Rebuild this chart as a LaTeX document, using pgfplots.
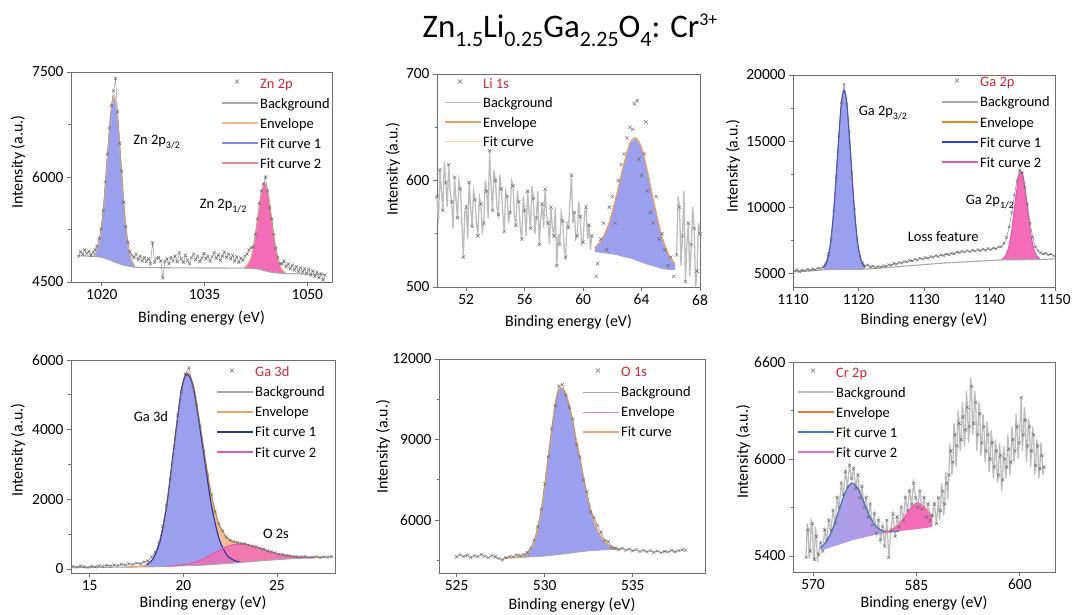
\documentclass[border=0pt]{standalone}
\usepackage{pgfplots}
\pgfplotsset{compat=1.18}
\usepackage{fontspec}
\setmainfont{Carlito}
\newfontfamily\redfont[Color=C8283A]{Carlito}
\newfontfamily\grayfont[Color=6A6A6A]{Carlito}

\definecolor{axisgray}{HTML}{6E6E6E}
\definecolor{markgray}{HTML}{6A6A6A}
\definecolor{datagray}{HTML}{BDBDBD}
\definecolor{datadark}{HTML}{848484}
\definecolor{datadarker}{HTML}{717171}
\definecolor{bggray}{HTML}{A8A8A8}
\definecolor{lavender}{HTML}{9AA0EE}
\definecolor{hotpink}{HTML}{F26CB6}
\definecolor{tanline}{HTML}{EDB98C}
\definecolor{znblue}{HTML}{7F88E8}
\definecolor{znpink}{HTML}{E98BA0}
\definecolor{liorange}{HTML}{E8A363}
\definecolor{lifit}{HTML}{F4CCA4}
\definecolor{gablue}{HTML}{2B44C6}
\definecolor{gapink}{HTML}{E65AAE}
\definecolor{gaorange}{HTML}{E08A2E}
\definecolor{envfill}{HTML}{F4BE90}
\definecolor{envline}{HTML}{EEA35E}
\definecolor{darkblue}{HTML}{27339F}
\definecolor{opink}{HTML}{E27CC6}
\definecolor{oorange}{HTML}{EBA76C}
\definecolor{crorange}{HTML}{E67B2C}
\definecolor{crblue}{HTML}{3B7BC8}
\definecolor{crpink}{HTML}{EE6FB8}
\definecolor{crlav}{HTML}{A6A3F0}
\definecolor{crmix}{HTML}{BD92DF}

\newcommand{\tsub}[1]{\raisebox{-0.3em}{\fontsize{22}{22}\selectfont #1}}
\newcommand{\tsupr}[1]{\raisebox{0.36em}{\fontsize{18}{18}\selectfont #1}}
\newcommand{\ssub}[1]{\raisebox{-0.28em}{\fontsize{10}{10}\selectfont #1}}
\newcommand{\annfont}{\fontsize{14.5}{17}\selectfont}
\newcommand{\legfont}{\fontsize{14.5}{17}\selectfont}

% key block: #1,#2 = corner (axis description cs), #3 = line shift, #4 = text shift,
% #5 = line style, #6 = label
\newcommand{\keyline}[6]{%
  \draw[#5] ([yshift=#3]axis description cs:#1,#2) -- ([xshift=36bp,yshift=#3]axis description cs:#1,#2);
  \node[anchor=base west, inner sep=0pt, font=\legfont] at ([xshift=38bp,yshift=#4]axis description cs:#1,#2) {#6};}
% first row: cross symbol and red series name
\newcommand{\keyhead}[3]{%
  \node[anchor=center, inner sep=0pt] at ([xshift=15bp,yshift=0.5bp]axis description cs:#1,#2) {\fontsize{11}{11}\grayfont ×};
  \node[anchor=base west, inner sep=0pt, font=\legfont] at ([xshift=38bp,yshift=-5bp]axis description cs:#1,#2) {\redfont #3};}

\pgfplotsset{
  xps/.style={
    anchor=north west, scale only axis,
    axis line style={draw=axisgray, line width=0.8pt},
    tick style={draw=axisgray, line width=0.7pt},
    tick align=outside, xtick pos=bottom, ytick pos=left,
    major tick length=4bp, minor tick length=2.5bp,
    tick label style={font=\fontsize{15.5}{18}\selectfont},
    label style={font=\fontsize{16}{19}\selectfont},
    /pgf/number format/assume math mode=true,
    /pgf/number format/set thousands separator={},
    scaled ticks=false,
    xlabel={Binding energy (eV)}, ylabel={Intensity (a.u.)},
    xlabel style={at={(axis description cs:0.5,0)}, anchor=center},
    ylabel style={anchor=center},
    clip=false,
  },
  datamarks/.style={only marks, mark=x, mark size=2.2bp,
    mark options={draw=markgray, line width=0.45pt}},
}

\begin{document}
\begin{tikzpicture}
\path[use as bounding box] (0,0) rectangle (1075bp,-615bp);
\node[anchor=base, font=\fontsize{33}{36}\selectfont] at (570bp,-37bp)
  {Zn\tsub{1.5}Li\tsub{0.25}Ga\tsub{2.25}O\tsub{4}: Cr\tsupr{3+}};

% ---------------- Zn 2p ----------------
\begin{axis}[xps, at={(71bp,-72bp)}, width=261bp, height=210bp,
  xmin=1015.5, xmax=1053.6, ymin=4500, ymax=7500,
  xtick={1020,1035,1050}, ytick={4500,6000,7500}, minor ytick={5250,6750},
  ylabel style={at={(axis description cs:-0.203,0.571)}},
  xlabel style={yshift=-36bp}]
\addplot[draw=none, fill=lavender] coordinates {
 (1018.8,4892)(1019.3,4966)(1019.8,5177)(1020.3,5618)(1020.8,6274)(1021.3,6910)
 (1021.8,7170)(1022.3,6870)(1022.8,6196)(1023.3,5511)(1023.8,5049)(1024.3,4822)(1024.8,4738)
 (1024.8,4712)(1024.3,4718)(1023.8,4727)(1023.3,4738)(1022.8,4752)(1022.3,4770)(1021.8,4790)
 (1021.3,4810)(1020.8,4830)(1020.3,4845)(1019.8,4855)(1019.3,4862)(1018.8,4866)};
\addplot[draw=none, fill=hotpink] coordinates {
 (1040.8,4712)(1041.3,4753)(1041.8,4866)(1042.3,5103)(1042.8,5452)(1043.3,5789)
 (1043.8,5925)(1044.3,5764)(1044.8,5405)(1045.3,5042)(1045.8,4798)(1046.3,4680)(1046.8,4636)
 (1046.8,4622)(1046.3,4624)(1045.8,4627)(1045.3,4631)(1044.8,4638)(1044.3,4648)(1043.8,4660)
 (1043.3,4673)(1042.8,4685)(1042.3,4692)(1041.8,4695)(1041.3,4697)(1040.8,4698)};
\addplot[bggray, line width=1.1pt] coordinates {
 (1016.6,4875)(1018,4870)(1019,4865)(1019.8,4855)(1020.3,4845)(1020.8,4830)(1021.3,4810)
 (1021.8,4790)(1022.3,4770)(1022.8,4752)(1023.3,4738)(1023.8,4727)(1024.3,4718)(1024.8,4712)
 (1026,4706)(1030,4703)(1035,4700)(1040,4699)(1040.8,4698)(1041.8,4695)(1042.8,4685)
 (1043.3,4673)(1043.8,4660)(1044.3,4648)(1044.8,4638)(1045.3,4631)(1045.8,4627)(1046.8,4622)
 (1049,4615)(1052.6,4605)};
\addplot[znblue, line width=0.6pt, smooth] coordinates {
 (1018.8,4892)(1019.3,4966)(1019.8,5177)(1020.3,5618)(1020.8,6274)(1021.3,6910)
 (1021.8,7170)(1022.3,6870)(1022.8,6196)(1023.3,5511)(1023.8,5049)(1024.3,4822)(1024.8,4738)};
\addplot[tanline, line width=1.1pt, smooth] coordinates {
 (1018.8,4892)(1019.3,4966)(1019.8,5177)(1020.3,5618)(1020.8,6274)(1021.3,6910)
 (1021.8,7170)(1022.3,6870)(1022.8,6196)(1023.3,5511)(1023.8,5049)(1024.3,4822)(1024.8,4738)};
\addplot[tanline, line width=1.1pt, smooth] coordinates {
 (1040.8,4712)(1041.3,4753)(1041.8,4866)(1042.3,5103)(1042.8,5452)(1043.3,5789)
 (1043.8,5925)(1044.3,5764)(1044.8,5405)(1045.3,5042)(1045.8,4798)(1046.3,4680)(1046.8,4636)};
\addplot[datadark, line width=0.4pt] coordinates {
 (1016.6,4870)(1016.9,4935)(1017.2,4890)(1017.5,4960)(1017.8,4905)(1018.1,4940)(1018.4,4880)
 (1018.7,4925)(1019.0,4960)(1019.3,5010)(1019.6,5120)(1019.9,5260)(1020.2,5520)(1020.5,5930)
 (1020.8,6330)(1021.1,6700)(1021.4,7020)(1021.7,7230)(1022.0,7410)(1022.3,6930)(1022.6,6480)
 (1022.9,6080)(1023.2,5640)(1023.5,5290)(1023.8,5070)(1024.1,4930)(1024.4,4880)(1024.7,4850)
 (1025.0,4900)(1025.3,4820)(1025.6,4870)(1025.9,4800)(1026.2,4850)(1026.5,4790)(1026.8,4830)
 (1027.1,4760)(1027.4,5060)(1027.7,4780)(1028.0,4840)(1028.3,4850)(1028.6,4800)(1028.9,4560)
 (1029.2,4790)(1029.5,4830)(1029.8,4760)(1030.1,4850)(1030.4,4800)(1030.7,4870)(1031.0,4790)
 (1031.3,4920)(1031.6,4830)(1031.9,4780)(1032.2,4880)(1032.5,4810)(1032.8,4760)(1033.1,4850)
 (1033.4,4900)(1033.7,4820)(1034.0,4870)(1034.3,4790)(1034.6,4840)(1034.9,4910)(1035.2,4830)
 (1035.5,4870)(1035.8,4800)(1036.1,4860)(1036.4,4920)(1036.7,4840)(1037.0,4890)(1037.3,4810)
 (1037.6,4870)(1037.9,4930)(1038.2,4850)(1038.5,4900)(1038.8,4830)(1039.1,4880)(1039.4,4800)
 (1039.7,4860)(1040.0,4780)(1040.3,4840)(1040.6,4810)(1040.9,4870)(1041.2,4900)(1041.5,4960)
 (1041.8,4990)(1042.1,5000)(1042.4,5180)(1042.7,5400)(1043.0,5620)(1043.3,5800)(1043.6,5900)
 (1043.9,6000)(1044.2,5800)(1044.5,5560)(1044.8,5400)(1045.1,5180)(1045.4,4980)(1045.7,4850)
 (1046.0,4760)(1046.3,4760)(1046.6,4800)(1046.9,4720)(1047.2,4760)(1047.5,4690)(1047.8,4740)
 (1048.1,4670)(1048.4,4720)(1048.7,4650)(1049.0,4700)(1049.3,4640)(1049.6,4690)(1049.9,4620)
 (1050.2,4680)(1050.5,4600)(1050.8,4660)(1051.1,4580)(1051.4,4640)(1051.7,4560)(1052.0,4620)
 (1052.3,4530)(1052.6,4600)};
\addplot[datamarks] coordinates {
 (1016.6,4870)(1016.9,4935)(1017.2,4890)(1017.5,4960)(1017.8,4905)(1018.1,4940)(1018.4,4880)
 (1018.7,4925)(1019.0,4960)(1019.3,5010)(1019.6,5120)(1019.9,5260)(1020.2,5520)(1020.5,5930)
 (1020.8,6330)(1021.1,6700)(1021.4,7020)(1021.7,7230)(1022.0,7410)(1022.3,6930)(1022.6,6480)
 (1022.9,6080)(1023.2,5640)(1023.5,5290)(1023.8,5070)(1024.1,4930)(1024.4,4880)(1024.7,4850)
 (1025.0,4900)(1025.3,4820)(1025.6,4870)(1025.9,4800)(1026.2,4850)(1026.5,4790)(1026.8,4830)
 (1027.1,4760)(1027.4,5060)(1027.7,4780)(1028.0,4840)(1028.3,4850)(1028.6,4800)(1028.9,4560)
 (1029.2,4790)(1029.5,4830)(1029.8,4760)(1030.1,4850)(1030.4,4800)(1030.7,4870)(1031.0,4790)
 (1031.3,4920)(1031.6,4830)(1031.9,4780)(1032.2,4880)(1032.5,4810)(1032.8,4760)(1033.1,4850)
 (1033.4,4900)(1033.7,4820)(1034.0,4870)(1034.3,4790)(1034.6,4840)(1034.9,4910)(1035.2,4830)
 (1035.5,4870)(1035.8,4800)(1036.1,4860)(1036.4,4920)(1036.7,4840)(1037.0,4890)(1037.3,4810)
 (1037.6,4870)(1037.9,4930)(1038.2,4850)(1038.5,4900)(1038.8,4830)(1039.1,4880)(1039.4,4800)
 (1039.7,4860)(1040.0,4780)(1040.3,4840)(1040.6,4810)(1040.9,4870)(1041.2,4900)(1041.5,4960)
 (1041.8,4990)(1042.1,5000)(1042.4,5180)(1042.7,5400)(1043.0,5620)(1043.3,5800)(1043.6,5900)
 (1043.9,6000)(1044.2,5800)(1044.5,5560)(1044.8,5400)(1045.1,5180)(1045.4,4980)(1045.7,4850)
 (1046.0,4760)(1046.3,4760)(1046.6,4800)(1046.9,4720)(1047.2,4760)(1047.5,4690)(1047.8,4740)
 (1048.1,4670)(1048.4,4720)(1048.7,4650)(1049.0,4700)(1049.3,4640)(1049.6,4690)(1049.9,4620)
 (1050.2,4680)(1050.5,4600)(1050.8,4660)(1051.1,4580)(1051.4,4640)(1051.7,4560)(1052.0,4620)
 (1052.3,4530)(1052.6,4600)};
\node[anchor=base west, font=\annfont] at (axis cs:1024.1,6470) {Zn 2p\ssub{3/2}};
\node[anchor=base west, font=\annfont] at (axis cs:1033.8,5551) {Zn 2p\ssub{1/2}};
\keyhead{0.5785}{0.9476}{Zn 2p}
\keyline{0.5785}{0.9476}{-20bp}{-25bp}{bggray, line width=1.2pt}{Background}
\keyline{0.5785}{0.9476}{-40bp}{-45bp}{tanline, line width=1.2pt}{Envelope}
\keyline{0.5785}{0.9476}{-60bp}{-65bp}{znblue, line width=1.2pt}{Fit curve 1}
\keyline{0.5785}{0.9476}{-80bp}{-85bp}{znpink, line width=1.2pt}{Fit curve 2}
\end{axis}

% ---------------- Li 1s ----------------
\begin{axis}[xps, at={(437bp,-74bp)}, width=263bp, height=213bp,
  xmin=50, xmax=68, ymin=500, ymax=700,
  xtick={52,56,60,64,68}, ytick={500,600,700}, minor ytick={550,650},
  ylabel style={at={(axis description cs:-0.167,0.554)}},
  xlabel style={yshift=-35bp}]
\addplot[datagray, line width=1.3pt] coordinates {
 (50.0,585)(50.1,560)(50.2,610)(50.3,590)(50.4,572)(50.5,618)(50.6,598)(50.7,575)(50.8,615)
 (50.9,590)(51.0,580)(51.1,555)(51.2,603)(51.3,582)(51.4,565)(51.5,600)(51.6,592)(51.7,560)
 (51.8,528)(51.9,570)(52.0,575)(52.1,545)(52.2,598)(52.3,575)(52.4,557)(52.5,590)(52.6,582)
 (52.7,560)(52.8,548)(52.9,585)(53.0,578)(53.1,552)(53.2,560)(53.3,600)(53.4,590)(53.5,565)
 (53.6,628)(53.7,595)(53.8,572)(53.9,610)(54.0,600)(54.1,575)(54.2,568)(54.3,605)(54.4,592)
 (54.5,570)(54.6,552)(54.7,590)(54.8,585)(54.9,560)(55.0,570)(55.1,600)(55.2,595)(55.3,565)
 (55.4,558)(55.5,590)(55.6,580)(55.7,555)(55.8,545)(55.9,585)(56.0,572)(56.1,548)(56.2,590)
 (56.3,570)(56.4,555)(56.5,595)(56.6,583)(56.7,550)(56.8,565)(56.9,590)(57.0,540)(57.1,565)
 (57.2,578)(57.3,555)(57.4,592)(57.5,568)(57.6,560)(57.7,540)(57.8,575)(57.9,555)(58.0,548)
 (58.1,575)(58.2,520)(58.3,550)(58.4,540)(58.5,570)(58.6,562)(58.7,535)(58.8,528)(58.9,560)
 (59.0,556)(59.1,580)(59.2,605)(59.3,560)(59.4,570)(59.5,545)(59.6,548)(59.7,580)(59.8,566)
 (59.9,540)(60.0,542)(60.1,570)(60.2,575)(60.3,545)(60.4,558)(60.5,535)(60.6,548)};
\addplot[datagray, line width=1.3pt] coordinates {
 (66.4,530)(66.5,585)(66.6,575)(66.7,520)(66.8,548)(66.9,590)(67.0,505)(67.1,540)(67.2,560)
 (67.3,510)(67.4,540)(67.5,575)(67.6,555)(67.7,500)(67.8,515)(67.9,560)(68.0,550)};
\addplot[draw=none, fill=lavender] coordinates {
 (60.8,537)(61.3,545)(61.8,561)(62.3,587)(62.8,616)(63.2,635)(63.6,640)(64.0,631)(64.4,609)
 (64.9,576)(65.4,547)(65.9,529)(66.3,522)
 (66.3,516)(65.9,516)(65.4,517)(64.9,519)(64.4,521)(64.0,523)(63.6,525)(63.2,527)(62.8,528)
 (62.3,530)(61.8,531)(61.3,532)(60.8,533)};
\addplot[liorange, line width=1.2pt, smooth] coordinates {
 (60.8,537)(61.3,545)(61.8,561)(62.3,587)(62.8,616)(63.2,635)(63.6,640)(64.0,631)(64.4,609)
 (64.9,576)(65.4,547)(65.9,529)(66.3,522)};
\addplot[datamarks, mark size=2.4bp] coordinates {
 (50.0,585)(50.2,610)(50.4,572)(50.6,598)(50.8,615)(51.0,580)(51.2,603)(51.4,565)(51.6,592)
 (51.8,528)(52.0,575)(52.2,598)(52.4,557)(52.6,582)(52.8,548)(53.0,578)(53.2,560)(53.4,590)
 (53.6,628)(53.8,572)(54.0,600)(54.2,568)(54.4,592)(54.6,552)(54.8,585)(55.0,570)(55.2,595)
 (55.4,558)(55.6,580)(55.8,545)(56.0,572)(56.2,590)(56.4,555)(56.6,583)(56.8,565)(57.0,540)
 (57.2,578)(57.4,592)(57.6,560)(57.8,575)(58.0,548)(58.2,520)(58.4,540)(58.6,562)(58.8,528)
 (59.0,556)(59.2,605)(59.4,570)(59.6,548)(59.8,566)(60.0,542)(60.2,575)(60.4,558)(60.6,548)
 (60.9,510)(61.0,522)(61.2,545)(61.4,560)(61.6,535)(61.8,575)(62.0,585)(62.2,560)(62.4,600)
 (62.6,615)(62.8,625)(63.0,640)(63.2,650)(63.4,648)(63.5,672)(63.7,675)(63.8,620)(64.0,605)
 (64.2,625)(64.3,655)(64.4,590)(64.6,570)(64.8,560)(65.0,585)(65.2,545)(65.4,550)(65.6,535)
 (65.8,520)(66.0,528)(66.2,510)
 (66.4,530)(66.6,575)(66.8,548)(67.0,505)(67.2,560)(67.4,540)(67.6,555)(67.8,515)(68.0,550)};
\keyhead{0.0304}{0.9577}{Li 1s}
\keyline{0.0304}{0.9577}{-19.5bp}{-24.5bp}{datagray, line width=1.6pt}{Background}
\keyline{0.0304}{0.9577}{-39bp}{-44bp}{liorange, line width=1.2pt}{Envelope}
\keyline{0.0304}{0.9577}{-58.5bp}{-63.5bp}{lifit, line width=1.2pt}{Fit curve}
\end{axis}

% ---------------- Ga 2p ----------------
\begin{axis}[xps, at={(793bp,-75bp)}, width=262bp, height=212bp,
  xmin=1110, xmax=1150, ymin=3950, ymax=20000,
  xtick={1110,1120,1130,1140,1150}, ytick={5000,10000,15000,20000}, minor ytick={7500,12500,17500},
  ylabel style={at={(axis description cs:-0.229,0.571)}},
  xlabel style={yshift=-33bp}]
\addplot[draw=none, fill=lavender] coordinates {
 (1114.62,5411)(1115.15,5861)(1115.68,7106)(1116.21,9681)(1116.74,13508)(1117.27,17256)
 (1117.535,18430)(1117.8,18850)(1118.065,18430)(1118.33,17259)(1118.86,13515)(1119.39,9694)
 (1119.92,7126)(1120.45,5891)(1120.98,5451)
 (1120.98,5300)(1119.92,5290)(1118.86,5285)(1117.8,5280)(1116.74,5278)(1115.68,5270)(1114.62,5260)};
\addplot[draw=none, fill=hotpink] coordinates {
 (1141.95,6072)(1142.43,6294)(1142.9,6908)(1143.38,8177)(1143.85,10066)(1144.33,11914)
 (1144.56,12493)(1144.8,12700)(1145.04,12498)(1145.28,11921)(1145.75,10078)(1146.23,8195)
 (1146.7,6931)(1147.18,6324)(1147.65,6107)
 (1147.65,6033)(1146.7,6026)(1145.75,6020)(1144.8,6012)(1143.85,6008)(1142.9,6003)(1141.95,5998)};
\addplot[bggray, line width=1.1pt] coordinates {
 (1110,5100)(1113,5180)(1115,5262)(1117.8,5280)(1121,5300)(1123,5380)(1125,5450)(1128,5570)
 (1130,5650)(1133,5760)(1135,5820)(1138,5900)(1140,5950)(1142,5998)(1144.8,6012)(1147.65,6033)
 (1150,6080)};
\addplot[gablue, line width=1.1pt, smooth] coordinates {
 (1114.62,5411)(1115.15,5861)(1115.68,7106)(1116.21,9681)(1116.74,13508)(1117.27,17256)
 (1117.535,18430)(1117.8,18850)(1118.065,18430)(1118.33,17259)(1118.86,13515)(1119.39,9694)
 (1119.92,7126)(1120.45,5891)(1120.98,5451)};
\addplot[gapink, line width=1.1pt, smooth] coordinates {
 (1141.95,6072)(1142.43,6294)(1142.9,6908)(1143.38,8177)(1143.85,10066)(1144.33,11914)
 (1144.56,12493)(1144.8,12700)(1145.04,12498)(1145.28,11921)(1145.75,10078)(1146.23,8195)
 (1146.7,6931)(1147.18,6324)(1147.65,6107)};
\addplot[datadarker, line width=0.4pt, mark=x, mark size=1.8bp,
  mark options={draw=markgray, line width=0.4pt}] coordinates {
 (1110.2,5150)(1110.6,5260)(1111.0,5120)(1111.4,5230)(1111.8,5180)(1112.2,5290)(1112.6,5210)
 (1113.0,5320)(1113.4,5260)(1113.8,5380)(1114.2,5340)(1114.6,5480)(1115.0,5750)(1115.4,6400)
 (1115.8,7500)(1116.2,9700)(1116.6,12300)(1117.0,15400)(1117.4,17900)(1117.8,19300)
 (1118.2,17800)(1118.6,15700)(1119.0,12600)(1119.4,9800)(1119.8,7500)(1120.2,6300)(1120.6,5800)
 (1121.0,5560)(1121.4,5620)(1121.8,5480)(1122.2,5530)(1122.6,5420)(1123.0,5500)(1123.4,5450)
 (1123.8,5560)(1124.2,5520)(1124.6,5640)(1125.0,5600)(1125.4,5720)(1125.8,5680)(1126.2,5800)
 (1126.6,5760)(1127.0,5880)(1127.4,5850)(1127.8,5960)(1128.2,5920)(1128.6,6050)(1129.0,5990)
 (1129.4,6120)(1129.8,6060)(1130.2,6180)(1130.6,6130)(1131.0,6250)(1131.4,6200)(1131.8,6320)
 (1132.2,6260)(1132.6,6390)(1133.0,6330)(1133.4,6450)(1133.8,6400)(1134.2,6520)(1134.6,6460)
 (1135.0,6600)(1135.4,6540)(1135.8,6650)(1136.2,6580)(1136.6,6700)(1137.0,6620)(1137.4,6740)
 (1137.8,6660)(1138.2,6780)(1138.6,6700)(1139.0,6820)(1139.4,6740)(1139.8,6860)(1140.2,6780)
 (1140.6,6900)(1141.0,6850)(1141.4,6980)(1141.8,7000)(1142.2,7250)(1142.6,7700)(1143.0,8500)
 (1143.4,9600)(1143.8,10900)(1144.2,12000)(1144.6,12800)(1145.0,12600)(1145.4,11500)
 (1145.8,10200)(1146.2,8800)(1146.6,7700)(1147.0,7000)(1147.4,6700)(1147.8,6550)(1148.2,6450)
 (1148.6,6500)(1149.0,6380)(1149.4,6450)(1149.8,6320)};
\node[anchor=base west, font=\annfont] at (axis cs:1119.5,16970) {Ga 2p\ssub{3/2}};
\node[anchor=base west, font=\annfont] at (axis cs:1135.85,10227) {Ga 2p\ssub{1/2}};
\node[anchor=base west, font=\annfont] at (axis cs:1127.0,7424) {Loss feature};
\keyhead{0.5687}{0.967}{Ga 2p}
\keyline{0.5687}{0.967}{-20bp}{-25bp}{bggray, line width=1.2pt}{Background}
\keyline{0.5687}{0.967}{-40bp}{-45bp}{gaorange, line width=1.2pt}{Envelope}
\keyline{0.5687}{0.967}{-60bp}{-65bp}{gablue, line width=1.2pt}{Fit curve 1}
\keyline{0.5687}{0.967}{-80bp}{-85bp}{gapink, line width=1.2pt}{Fit curve 2}
\end{axis}

% ---------------- Ga 3d ----------------
\begin{axis}[xps, at={(71bp,-360bp)}, width=264bp, height=213bp,
  xmin=14, xmax=28.1, ymin=-115, ymax=6000,
  xtick={15,20,25}, ytick={0,2000,4000,6000}, minor ytick={1000,3000,5000},
  ylabel style={at={(axis description cs:-0.2,0.577)}},
  xlabel style={yshift=-30bp}]
\addplot[draw=none, fill=envfill] coordinates {
 (17.0,58)(17.5,65)(18.04,123)(18.4,308)(18.76,816)(19.12,1866)(19.48,3431)(19.84,4967)
 (20.02,5456)(20.2,5643)(20.41,5497)(20.625,5054)(21.05,3620)(21.475,2186)(21.9,1274)
 (22.325,883)(22.75,764)(23.2,720)(23.6,669)(24.05,599)(24.65,488)(25.25,401)(25.85,354)
 (26.45,334)(27.0,337)(27.5,342)
 (27.5,340)(27.0,330)(26.45,314)(25.85,300)(25.25,279)(24.65,256)(24.05,232)(23.6,210)
 (23.2,195)(22.75,175)(22.325,160)(21.9,142)(21.475,125)(21.05,112)(20.625,104)(20.2,97)
 (19.84,90)(19.48,85)(19.12,76)(18.76,70)(18.4,66)(18.04,62)(17.5,60)(17.0,57)};
\addplot[draw=none, fill=lavender] coordinates {
 (18.04,123)(18.4,307)(18.76,814)(19.12,1862)(19.48,3421)(19.84,4944)(20.02,5423)(20.2,5597)
 (20.41,5430)(20.625,4958)(21.05,3448)(21.475,1911)(21.9,886)(22.325,401)(22.75,236)(23.0,210)
 (23.0,185)(22.75,175)(22.325,160)(21.9,142)(21.475,125)(21.05,112)(20.625,104)(20.2,97)
 (19.84,90)(19.48,85)(19.12,76)(18.76,70)(18.4,66)(18.04,62)};
\addplot[draw=none, fill=hotpink, fill opacity=0.85] coordinates {
 (19.12,80)(19.48,95)(19.84,113)(20.2,143)(20.625,200)(21.05,284)(21.475,400)(21.9,530)
 (22.325,642)(22.75,703)(23.2,709)(23.6,669)(24.05,599)(24.65,488)(25.25,401)(25.85,354)
 (26.45,334)(27.0,337)
 (27.0,330)(26.45,314)(25.85,300)(25.25,279)(24.65,256)(24.05,232)(23.6,210)(23.2,195)
 (22.75,175)(22.325,160)(21.9,142)(21.475,125)(21.05,112)(20.625,104)(20.2,97)(19.84,90)
 (19.48,85)(19.12,76)};
\addplot[bggray, line width=1.1pt] coordinates {
 (14,40)(15,45)(16,50)(17,57)(18.04,62)(18.4,66)(18.76,70)(19.12,76)(19.48,85)(19.84,90)
 (20.2,97)(20.625,104)(21.05,112)(21.475,125)(21.9,142)(22.325,160)(22.75,175)(23.2,195)
 (23.6,210)(24.05,232)(24.65,256)(25.25,279)(25.85,300)(26.45,314)(27,330)(27.5,340)(28,345)};
\addplot[envline, line width=1.2pt, smooth] coordinates {
 (17.0,58)(17.5,65)(18.04,123)(18.4,308)(18.76,816)(19.12,1866)(19.48,3431)(19.84,4967)
 (20.02,5456)(20.2,5643)(20.41,5497)(20.625,5054)(21.05,3620)(21.475,2186)(21.9,1274)
 (22.325,883)(22.75,764)(23.2,720)(23.6,669)(24.05,599)(24.65,488)(25.25,401)(25.85,354)
 (26.45,334)(27.0,337)(27.5,342)};
\addplot[darkblue, line width=1.1pt, smooth] coordinates {
 (18.04,123)(18.4,307)(18.76,814)(19.12,1862)(19.48,3421)(19.84,4944)(20.02,5423)(20.2,5597)
 (20.41,5430)(20.625,4958)(21.05,3448)(21.475,1911)(21.9,886)(22.325,401)(22.75,236)(23.0,210)};
\addplot[gapink, line width=1.1pt, smooth] coordinates {
 (19.12,80)(19.48,95)(19.84,113)(20.2,143)(20.625,200)(21.05,284)(21.475,400)(21.9,530)
 (22.325,642)(22.75,703)(23.2,709)(23.6,669)(24.05,599)(24.65,488)(25.25,401)(25.85,354)
 (26.45,334)(27.0,337)};
\addplot[datadarker, line width=0.4pt, mark=x, mark size=2bp,
  mark options={draw=markgray, line width=0.4pt}] coordinates {
 (14.1,80)(14.3,55)(14.5,90)(14.7,70)(14.9,45)(15.1,85)(15.3,60)(15.5,95)(15.7,75)(15.9,110)
 (16.1,90)(16.3,120)(16.5,100)(16.7,135)(16.9,115)(17.1,150)(17.3,130)(17.5,170)(17.7,150)
 (17.9,200)(18.1,230)(18.3,340)(18.5,480)(18.7,760)(18.9,1220)(19.1,1830)(19.3,2600)
 (19.5,3500)(19.7,4400)(19.9,5100)(20.1,5600)(20.3,5780)(20.5,5250)(20.7,4700)(20.9,4100)
 (21.1,3380)(21.3,2700)(21.5,2130)(21.7,1650)(21.9,1300)(22.1,1100)(22.3,920)(22.5,830)
 (22.7,790)(22.9,760)(23.1,740)(23.3,730)(23.5,690)(23.7,660)(23.9,640)(24.1,600)(24.3,570)
 (24.5,520)(24.7,500)(24.9,470)(25.1,430)(25.3,420)(25.5,390)(25.7,380)(25.9,360)(26.1,350)
 (26.3,345)(26.5,360)(26.7,330)(26.9,340)(27.1,355)(27.3,325)(27.5,350)(27.7,340)(27.9,360)};
\node[anchor=base west, font=\annfont] at (axis cs:17.17,4230) {Ga 3d};
\node[anchor=base west, font=\annfont] at (axis cs:24.07,880) {O 2s};
\keyhead{0.553}{0.9437}{Ga 3d}
\keyline{0.553}{0.9437}{-20bp}{-25bp}{bggray, line width=1.2pt}{Background}
\keyline{0.553}{0.9437}{-40bp}{-45bp}{envline, line width=1.2pt}{Envelope}
\keyline{0.553}{0.9437}{-60bp}{-65bp}{darkblue, line width=1.2pt}{Fit curve 1}
\keyline{0.553}{0.9437}{-80bp}{-85bp}{gapink, line width=1.2pt}{Fit curve 2}
\end{axis}

% ---------------- O 1s ----------------
\begin{axis}[xps, at={(439bp,-359bp)}, width=266bp, height=214bp,
  xmin=524, xmax=539.1, ymin=4030, ymax=12000,
  xtick={525,530,535}, ytick={6000,9000,12000}, minor ytick={4500,7500,10500},
  ylabel style={at={(axis description cs:-0.21,0.59)}},
  xlabel style={yshift=-32bp}]
\addplot[draw=none, fill=lavender] coordinates {
 (527.7,4600)(528.4,4612)(528.86,4684)(529.2,4903)(529.54,5482)(529.88,6675)(530.22,8447)
 (530.56,10189)(530.73,10742)(530.9,10945)(531.155,10772)(531.41,10254)(531.92,8584)
 (532.43,6870)(532.94,5718)(533.45,5168)(533.96,4977)(534.3,4932)
 (534.3,4912)(533.96,4908)(533.45,4895)(532.94,4876)(532.43,4850)(531.92,4812)(531.41,4765)
 (530.9,4725)(530.56,4700)(530.22,4675)(529.88,4655)(529.54,4640)(529.2,4630)(528.86,4615)
 (528.4,4605)(527.7,4600)};
\addplot[bggray, line width=0.7pt] coordinates {
 (527.7,4600)(528.4,4605)(528.86,4615)(529.2,4630)(529.54,4640)(529.88,4655)(530.22,4675)
 (530.56,4700)(530.9,4725)(531.41,4765)(531.92,4812)(532.43,4850)(532.94,4876)(533.45,4895)
 (533.96,4908)(534.3,4912)};
\addplot[oorange, line width=1.3pt, smooth] coordinates {
 (527.7,4600)(528.4,4612)(528.86,4684)(529.2,4903)(529.54,5482)(529.88,6675)(530.22,8447)
 (530.56,10189)(530.73,10742)(530.9,10945)(531.155,10772)(531.41,10254)(531.92,8584)
 (532.43,6870)(532.94,5718)(533.45,5168)(533.96,4977)(534.3,4932)};
\addplot[datadark, line width=0.4pt, mark=x, mark size=2.2bp,
  mark options={draw=markgray, line width=0.4pt}] coordinates {
 (525.0,4630)(525.2,4710)(525.4,4650)(525.6,4690)(525.8,4610)(526.0,4670)(526.2,4640)
 (526.4,4720)(526.6,4650)(526.8,4600)(527.0,4680)(527.2,4630)(527.4,4570)(527.6,4520)
 (527.8,4600)(528.0,4640)(528.2,4630)(528.4,4700)(528.6,4680)(528.8,4720)(529.0,4800)
 (529.2,4950)(529.4,5250)(529.6,5750)(529.8,6400)(530.0,7350)(530.2,8350)(530.4,9400)
 (530.6,10250)(530.8,11000)(531.0,11050)(531.2,10650)(531.4,10200)(531.6,9750)(531.8,8800)
 (532.0,8350)(532.2,7500)(532.4,7050)(532.6,6300)(532.8,6100)(533.0,5800)(533.2,5550)
 (533.4,5250)(533.6,5200)(533.8,5000)(534.0,4950)(534.2,4900)(534.4,4950)(534.6,4880)
 (534.8,4920)(535.0,4860)(535.2,4900)(535.4,4830)(535.6,4880)(535.8,4820)(536.0,4860)
 (536.2,4800)(536.4,4850)(536.6,4790)(536.8,4840)(537.0,4810)(537.2,4870)(537.4,4820)
 (537.6,4860)(537.8,4900)(538.0,4880)};
\keyhead{0.5414}{0.9393}{O 1s}
\keyline{0.5414}{0.9393}{-20bp}{-25bp}{bggray, line width=0.7pt}{Background}
\keyline{0.5414}{0.9393}{-40bp}{-45bp}{opink, line width=0.7pt}{Envelope}
\keyline{0.5414}{0.9393}{-60bp}{-65bp}{oorange, line width=1.6pt}{Fit curve}
\end{axis}

% ---------------- Cr 2p ----------------
\begin{axis}[xps, at={(793bp,-362bp)}, width=262bp, height=210bp,
  xmin=567.1, xmax=605.1, ymin=5300, ymax=6600,
  xtick={570,585,600}, ytick={5400,6000,6600}, minor ytick={5700,6300},
  ylabel style={at={(axis description cs:-0.19,0.573)}},
  xlabel style={yshift=-31bp}]
\addplot[datagray, line width=1.3pt] coordinates {
 (569.0,5390)(569.15,5600)(569.3,5560)(569.45,5380)(569.6,5430)(569.75,5620)(569.9,5600)
 (570.05,5400)(570.2,5380)(570.35,5580)(570.5,5520)(570.65,5360)(570.8,5410)
 (571.1,5480)(571.4,5430)(571.7,5560)(572.0,5500)(572.3,5620)(572.6,5560)(572.9,5680)
 (573.2,5600)(573.5,5760)(573.8,5700)(574.1,5850)(574.4,5780)(574.7,5920)(575.0,5830)
 (575.3,5960)(575.6,5880)(575.9,5940)(576.2,5820)(576.5,5900)(576.8,5760)(577.1,5830)
 (577.4,5700)(577.7,5760)(578.0,5640)(578.3,5720)(578.6,5590)(578.9,5660)(579.2,5540)
 (579.5,5620)(579.8,5500)(580.1,5580)(580.4,5460)(580.7,5620)(581.0,5390)(581.3,5560)
 (581.6,5660)(581.9,5520)(582.2,5640)(582.5,5580)(582.8,5700)(583.1,5620)(583.4,5760)
 (583.7,5680)(584.0,5800)(584.3,5720)(584.6,5850)(584.9,5760)(585.2,5700)(585.5,5800)
 (585.8,5690)(586.1,5760)(586.4,5640)(586.7,5720)(587.0,5620)(587.3,5650)(587.6,5720)
 (587.9,5600)(588.2,5760)(588.35,5620)(588.5,5680)(588.65,5850)(588.8,5800)(588.95,5650)
 (589.1,5720)(589.25,5920)(589.4,5850)(589.55,5750)(589.7,5900)(589.85,6080)(590.0,6050)
 (590.15,5900)(590.3,5980)(590.45,6220)(590.6,6150)(590.75,5950)(590.9,6080)(591.05,6300)
 (591.2,6220)(591.35,6050)(591.5,6120)(591.65,6350)(591.8,6260)(591.95,6080)(592.1,6180)
 (592.25,6420)(592.4,6320)(592.55,6100)(592.7,6200)(592.85,6500)(593.0,6450)(593.15,6150)
 (593.3,6220)(593.45,6420)(593.6,6350)(593.75,6050)(593.9,6150)(594.05,6350)(594.2,6280)
 (594.35,6020)(594.5,6100)(594.65,6280)(594.8,6200)(594.95,5980)(595.1,6050)(595.25,6230)
 (595.4,6150)(595.55,5920)(595.7,6000)(595.85,6180)(596.0,6100)(596.15,5880)(596.3,5950)
 (596.45,6120)(596.6,6050)(596.75,5850)(596.9,5900)(597.05,6100)(597.2,6020)(597.35,5800)
 (597.5,5870)(597.65,6080)(597.8,6000)(597.95,5880)(598.1,5950)(598.25,6150)(598.4,6060)
 (598.55,5900)(598.7,5980)(598.85,6200)(599.0,6120)(599.15,5980)(599.3,6050)(599.45,6280)
 (599.6,6200)(599.75,6000)(599.9,6100)(600.05,6250)(600.2,6380)(600.35,6050)(600.5,6150)
 (600.65,6320)(600.8,6240)(600.95,5980)(601.1,6080)(601.25,6250)(601.4,6200)(601.55,5950)
 (601.7,6050)(601.85,6200)(602.0,6150)(602.15,5900)(602.3,5960)(602.45,6120)(602.6,6080)
 (602.75,5880)(602.9,5940)(603.05,6100)(603.2,6020)(603.35,5900)(603.5,5950)};
\addplot[draw=none, left color=crlav, right color=crmix] coordinates {
 (571.1,5448)(572.0,5493)(572.9,5572)(573.8,5685)(574.7,5795)(575.6,5850)(576.5,5818)
 (577.4,5729)(578.3,5638)(579.2,5580)(580.1,5554)(581.0,5549)(582.5,5552)
 (582.5,5552)(581.0,5545)(579.2,5532)(577.4,5514)(575.6,5495)(573.8,5470)(572.0,5445)(571.1,5432)};
\addplot[draw=none, fill=hotpink] coordinates {
 (580.3,5542)(581.1,5553)(581.9,5572)(582.7,5606)(583.5,5655)(584.3,5703)(585.1,5726)
 (585.9,5711)(586.7,5672)(587.3,5642)
 (587.3,5580)(586.7,5575)(585.9,5570)(585.1,5566)(584.3,5562)(583.5,5558)(582.7,5554)
 (581.9,5550)(581.1,5546)(580.3,5540)};
\addplot[crorange, line width=1.1pt, smooth] coordinates {
 (571.1,5448)(572.0,5493)(572.9,5572)(573.8,5685)(574.7,5795)(575.6,5850)(576.5,5818)
 (577.4,5729)(578.3,5638)(579.2,5580)(580.1,5556)(581.0,5555)(581.9,5574)(582.7,5606)
 (583.5,5655)(584.3,5703)(585.1,5726)(585.9,5711)(586.7,5672)(587.3,5642)};
\addplot[crblue, line width=1.2pt, smooth] coordinates {
 (571.1,5448)(572.0,5493)(572.9,5572)(573.8,5685)(574.7,5795)(575.6,5850)(576.5,5818)
 (577.4,5729)(578.3,5638)(579.2,5580)(580.1,5554)(581.0,5549)(582.5,5552)};
\addplot[crpink, line width=1.2pt, smooth] coordinates {
 (580.3,5542)(581.1,5553)(581.9,5572)(582.7,5606)(583.5,5655)(584.3,5703)(585.1,5726)
 (585.9,5711)(586.7,5672)(587.3,5642)};
\addplot[datamarks] coordinates {
 (569.0,5390)(569.3,5560)(569.6,5430)(569.9,5600)(570.2,5380)(570.5,5520)(570.8,5410)
 (571.1,5480)(571.4,5430)(571.7,5560)(572.0,5500)(572.3,5620)(572.6,5560)(572.9,5680)
 (573.2,5600)(573.5,5760)(573.8,5700)(574.1,5850)(574.4,5780)(574.7,5920)(575.0,5830)
 (575.3,5960)(575.6,5880)(575.9,5940)(576.2,5820)(576.5,5900)(576.8,5760)(577.1,5830)
 (577.4,5700)(577.7,5760)(578.0,5640)(578.3,5720)(578.6,5590)(578.9,5660)(579.2,5540)
 (579.5,5620)(579.8,5500)(580.1,5580)(580.4,5460)(580.7,5620)(581.0,5390)(581.3,5560)
 (581.6,5660)(581.9,5520)(582.2,5640)(582.5,5580)(582.8,5700)(583.1,5620)(583.4,5760)
 (583.7,5680)(584.0,5800)(584.3,5720)(584.6,5850)(584.9,5760)(585.2,5700)(585.5,5800)
 (585.8,5690)(586.1,5760)(586.4,5640)(586.7,5720)(587.0,5620)(587.3,5650)(587.6,5720)
 (587.9,5600)(588.2,5760)(588.5,5680)(588.8,5800)(589.1,5720)(589.4,5850)(589.7,5900)
 (590.0,6050)(590.3,5980)(590.6,6150)(590.9,6080)(591.2,6220)(591.5,6120)(591.8,6260)
 (592.1,6180)(592.4,6320)(592.7,6200)(593.0,6450)(593.3,6220)(593.6,6350)(593.9,6150)
 (594.2,6280)(594.5,6100)(594.8,6200)(595.1,6050)(595.4,6150)(595.7,6000)(596.0,6100)
 (596.3,5950)(596.6,6050)(596.9,5900)(597.2,6020)(597.5,5870)(597.8,6000)(598.1,5950)
 (598.4,6060)(598.7,5980)(599.0,6120)(599.3,6050)(599.6,6200)(599.9,6100)(600.2,6380)
 (600.5,6150)(600.8,6240)(601.1,6080)(601.4,6200)(601.7,6050)(602.0,6150)(602.3,5960)
 (602.6,6080)(602.9,5940)(603.2,6020)(603.5,5950)};
\keyhead{0.0191}{0.9524}{Cr 2p}
\keyline{0.0191}{0.9524}{-20bp}{-25bp}{datagray, line width=1.6pt}{Background}
\keyline{0.0191}{0.9524}{-40bp}{-45bp}{crorange, line width=1.2pt}{Envelope}
\keyline{0.0191}{0.9524}{-60bp}{-65bp}{crblue, line width=1.2pt}{Fit curve 1}
\keyline{0.0191}{0.9524}{-80bp}{-85bp}{crpink, line width=1.2pt}{Fit curve 2}
\end{axis}
\end{tikzpicture}
\end{document}
